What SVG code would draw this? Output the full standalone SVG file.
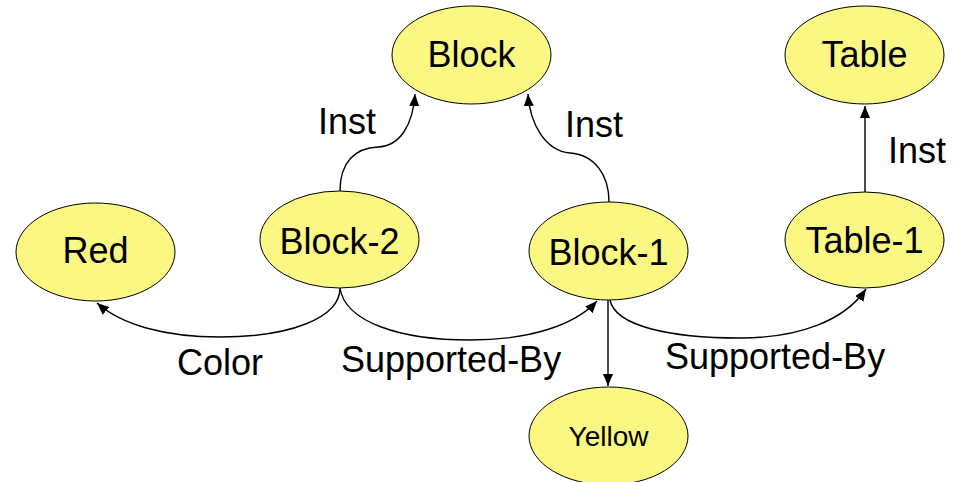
<svg xmlns="http://www.w3.org/2000/svg" width="957" height="482" viewBox="0 0 957 482">
  <style>
    .node ellipse { fill: #faf882; stroke: #000; stroke-width: 1; }
    .node text { font-family: "Liberation Sans", Arial, sans-serif; font-size: 36px; fill: #000; text-anchor: middle; }
    .edge { fill: none; stroke: #000; stroke-width: 1.4; marker-end: url(#arrow); }
    .label { font-family: "Liberation Sans", Arial, sans-serif; font-size: 36px; fill: #000; }
  </style>
  <defs>
    <marker id="arrow" viewBox="0 0 12 10" refX="12" refY="5" markerWidth="12" markerHeight="10" markerUnits="userSpaceOnUse" orient="auto">
      <path d="M0,0 L12,5 L0,10 Z" fill="#000"/>
    </marker>
  </defs>
  <rect width="957" height="482" fill="#fff"/>

  <!-- connectors -->
  <g id="edges">
    <path class="edge" d="M340,191 C340,162 355,148 378,147 C400,146 413,125 415,94"/>
    <path class="edge" d="M609,202 C609,175 595,155 570,153 C546,151 530,125 528,94"/>
    <path class="edge" d="M865,192 L865,106"/>
    <path class="edge" d="M340,288 C340,318 290,337 220,337 C165,337 122,325 97,303"/>
    <path class="edge" d="M340,288 C345,322 400,340 470,340 C530,340 575,325 597,301"/>
    <path class="edge" d="M608,300 L608,386"/>
    <path class="edge" d="M610,300 C615,326 670,338 740,338 C800,338 845,320 866,289"/>
    <text class="label" x="318" y="134">Inst</text>
    <text class="label" x="565" y="137">Inst</text>
    <text class="label" x="888" y="163">Inst</text>
    <text class="label" x="177" y="375">Color</text>
    <text class="label" x="341" y="372">Supported-By</text>
    <text class="label" x="665" y="369">Supported-By</text>
  </g>

  <!-- nodes -->
  <g id="block" class="node">
    <ellipse cx="471.5" cy="55" rx="79.5" ry="49"/>
    <text x="471.5" y="67">Block</text>
  </g>
  <g id="table" class="node">
    <ellipse cx="864.5" cy="55" rx="79.5" ry="49"/>
    <text x="864.5" y="67">Table</text>
  </g>
  <g id="red" class="node">
    <ellipse cx="95.5" cy="252" rx="79.5" ry="49"/>
    <text x="95.5" y="263">Red</text>
  </g>
  <g id="block-2" class="node">
    <ellipse cx="339.5" cy="239.5" rx="79.5" ry="48.5"/>
    <text x="339.5" y="254">Block-2</text>
  </g>
  <g id="block-1" class="node">
    <ellipse cx="608.5" cy="251" rx="79.5" ry="49"/>
    <text x="608.5" y="265">Block-1</text>
  </g>
  <g id="table-1" class="node">
    <ellipse cx="864.5" cy="240" rx="79.5" ry="48"/>
    <text x="864.5" y="253">Table-1</text>
  </g>
  <g id="yellow" class="node">
    <ellipse cx="608.5" cy="436" rx="79.5" ry="49"/>
    <text x="608.5" y="446" style="font-size:28px">Yellow</text>
  </g>
</svg>
